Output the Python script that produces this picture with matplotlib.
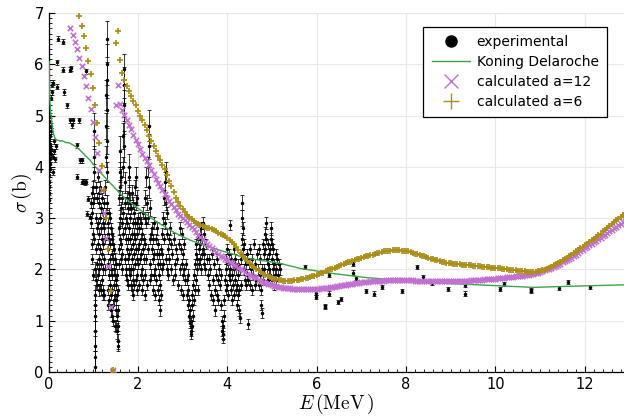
import numpy as np
import matplotlib
matplotlib.use('Agg')
import matplotlib.pyplot as plt
from matplotlib.lines import Line2D
from matplotlib.ticker import MultipleLocator

# ---------------------------------------------------------------
# data
# ---------------------------------------------------------------
# experimental points (E MeV, sigma b, error b)
exp_low = [
    (0.01, 3.35, .05), (0.01, 3.50, .05), (0.015, 3.60, .05), (0.02, 3.70, .05),
    (0.02, 3.85, .05), (0.025, 3.95, .05), (0.03, 4.05, .05), (0.01, 4.10, .05),
    (0.02, 4.20, .05), (0.03, 4.30, .05), (0.035, 4.40, .05), (0.04, 4.45, .05),
    (0.015, 4.55, .05), (0.025, 4.60, .05), (0.045, 4.70, .05), (0.05, 4.80, .05),
    (0.02, 4.90, .05), (0.03, 5.00, .05), (0.06, 5.35, .05), (0.07, 5.45, .05),
    (0.08, 5.60, .05), (0.04, 4.15, .05), (0.05, 4.25, .05), (0.06, 4.35, .05),
    (0.10, 4.20, .05), (0.12, 4.30, .05), (0.14, 4.15, .05), (0.16, 4.40, .05),
    (0.11, 3.90, .05), (0.13, 4.50, .05), (0.11, 5.64, .05),
    (0.22, 6.50, .05), (0.33, 6.44, .05), (0.20, 6.04, .05), (0.33, 5.89, .05),
    (0.48, 5.89, .05), (0.50, 5.92, .05), (0.20, 5.56, .05), (0.35, 5.46, .05),
    (0.41, 5.20, .05), (0.48, 4.91, .05), (0.54, 4.91, .05), (0.69, 4.91, .05),
    (0.52, 4.81, .05), (0.63, 4.42, .05), (0.70, 4.13, .05), (0.63, 3.81, .05),
    (0.74, 3.71, .05), (0.84, 3.71, .05), (0.85, 5.86, .05), (0.74, 4.13, .05),
    (0.78, 3.71, .05), (0.82, 3.70, .05), (0.89, 3.38, .05), (0.87, 3.09, .05),
    (0.93, 3.03, .05),
]

exp_forest_1 = [
    (0.95, 3.3, .1), (0.96, 2.9, .1), (0.97, 3.5, .1), (0.97, 2.5, .1), (0.98, 3.1, .1),
    (0.98, 2.2, .1), (0.99, 3.6, .12), (0.99, 2.7, .1), (1.00, 1.9, .1), (1.00, 3.3, .1),
    (1.01, 3.9, .15), (1.01, 2.6, .1), (1.02, 4.7, .35), (1.02, 4.2, .2), (1.02, 3.4, .1),
    (1.03, 2.0, .15), (1.03, 1.5, .2), (1.04, 1.1, .3), (1.04, 0.8, .4), (1.04, 0.5, .5),
    (1.05, 0.3, .4), (1.05, 0.1, .3), (1.05, 1.3, .3), (1.06, 1.8, .2), (1.06, 2.4, .1),
    (1.07, 3.0, .1), (1.07, 3.6, .1), (1.08, 2.8, .1), (1.08, 2.1, .1), (1.09, 3.4, .1),
    (1.09, 1.7, .1), (1.10, 2.5, .1), (1.10, 3.8, .1), (1.11, 2.9, .1), (1.11, 1.9, .1),
    (1.12, 3.3, .1), (1.12, 2.2, .1), (1.13, 2.7, .1), (1.13, 1.6, .12), (1.14, 3.5, .1),
    (1.14, 2.0, .1), (1.15, 3.0, .1), (1.15, 1.7, .1), (1.16, 2.4, .1), (1.16, 3.6, .12),
    (1.17, 2.8, .1), (1.17, 1.6, .1), (1.18, 3.2, .1), (1.18, 2.1, .1), (1.19, 2.6, .1),
    (1.19, 1.8, .1), (1.20, 3.4, .1), (1.20, 2.3, .1), (1.21, 1.5, .1), (1.21, 2.9, .1),
    (1.22, 2.0, .1), (1.22, 3.1, .1), (1.23, 2.5, .1), (1.23, 1.6, .1), (1.24, 3.3, .1),
    (1.24, 2.2, .1), (1.25, 2.8, .1), (1.25, 1.5, .1), (1.26, 3.0, .12), (1.26, 2.0, .1),
    (1.27, 3.6, .15), (1.27, 2.6, .1), (1.28, 4.2, .2), (1.28, 3.1, .1),
    (1.29, 4.8, .25), (1.29, 5.4, .3), (1.30, 6.0, .4), (1.30, 6.5, .35), (1.30, 5.7, .35),
    (1.30, 4.5, .25), (1.31, 5.1, .3), (1.31, 3.9, .2), (1.31, 3.3, .15), (1.32, 2.7, .12),
    (1.32, 2.1, .1), (1.33, 2.9, .1), (1.33, 1.6, .1), (1.34, 2.4, .1), (1.34, 1.3, .1),
    (1.35, 3.1, .1), (1.35, 1.9, .1), (1.36, 2.6, .1), (1.36, 1.4, .1), (1.37, 2.2, .1),
    (1.37, 3.0, .1), (1.38, 1.7, .1), (1.38, 2.5, .1), (1.39, 1.2, .12), (1.39, 2.8, .1),
    (1.40, 2.0, .1), (1.40, 1.5, .1), (1.41, 2.6, .12), (1.41, 1.1, .1), (1.42, 2.3, .1),
    (1.42, 1.6, .1), (1.43, 1.9, .1), (1.43, 2.7, .1), (1.44, 1.3, .1), (1.44, 2.2, .1),
    (1.45, 1.0, .1), (1.45, 2.5, .15), (1.46, 1.7, .1), (1.46, 2.0, .1), (1.47, 1.4, .1),
    (1.47, 2.4, .1), (1.48, 0.9, .1), (1.48, 1.9, .1), (1.49, 1.5, .1), (1.49, 2.2, .12),
    (1.50, 1.2, .1), (1.50, 1.8, .1), (1.51, 0.9, .12), (1.51, 2.1, .1), (1.52, 1.4, .1),
    (1.52, 1.7, .1), (1.53, 1.1, .1), (1.53, 1.9, .1), (1.54, 0.8, .15), (1.54, 1.5, .1),
    (1.55, 0.6, .15), (1.55, 1.2, .1), (1.56, 0.5, .1), (1.56, 0.9, .1), (1.56, 1.6, .1),
]

exp_forest_2 = [
    (1.57, 2.1, .1), (1.57, 2.8, .12), (1.58, 3.4, .15), (1.58, 2.4, .1), (1.59, 3.9, .2),
    (1.60, 4.3, .3), (1.60, 3.0, .15), (1.61, 2.6, .1), (1.61, 3.6, .15), (1.62, 2.2, .1),
    (1.62, 3.2, .12), (1.63, 2.5, .1), (1.63, 3.8, .15), (1.64, 2.9, .1), (1.64, 2.0, .1),
    (1.65, 3.4, .12), (1.65, 2.3, .1), (1.66, 4.0, .2), (1.66, 2.7, .1), (1.67, 4.6, .25),
    (1.67, 3.1, .12), (1.68, 5.2, .3), (1.69, 5.6, .35), (1.70, 5.9, .3), (1.70, 5.0, .35),
    (1.70, 4.4, .3), (1.71, 3.7, .2), (1.71, 2.8, .1), (1.72, 2.2, .1), (1.72, 3.3, .12),
    (1.73, 1.9, .1), (1.73, 2.6, .1), (1.74, 3.0, .1), (1.74, 2.0, .1), (1.75, 3.4, .12),
    (1.75, 2.4, .1), (1.76, 1.8, .1), (1.76, 2.9, .1), (1.77, 3.2, .12), (1.77, 2.2, .1),
    (1.78, 2.6, .1), (1.78, 1.7, .1), (1.79, 3.5, .15), (1.79, 2.0, .1), (1.80, 2.8, .1),
    (1.80, 3.8, .2), (1.81, 2.3, .1), (1.81, 4.0, .25), (1.82, 3.3, .15), (1.82, 1.9, .1),
    (1.83, 2.6, .1), (1.83, 3.0, .1), (1.84, 1.7, .1), (1.84, 2.4, .1), (1.85, 3.2, .12),
    (1.85, 2.0, .1), (1.86, 2.7, .1), (1.86, 1.6, .1), (1.87, 3.5, .15), (1.87, 2.2, .1),
    (1.88, 2.9, .1), (1.88, 1.8, .1), (1.89, 2.5, .1), (1.89, 3.3, .12), (1.90, 2.0, .1),
    (1.90, 1.5, .1), (1.91, 2.7, .1), (1.91, 3.1, .12), (1.92, 2.3, .1), (1.92, 1.7, .1),
    (1.93, 2.9, .1), (1.93, 3.6, .15), (1.94, 2.1, .1), (1.94, 2.6, .1), (1.95, 3.3, .15),
    (1.95, 1.8, .1), (1.96, 3.8, .2), (1.96, 2.4, .1), (1.97, 2.9, .12), (1.97, 1.6, .1),
    (1.98, 3.4, .15), (1.98, 2.2, .1), (1.99, 2.7, .1), (1.99, 1.9, .1), (2.00, 2.4, .1),
    (2.00, 3.0, .1), (2.01, 2.1, .1), (2.02, 2.8, .1), (2.03, 1.7, .1), (2.03, 2.5, .1),
    (2.04, 3.0, .12), (2.05, 2.2, .1), (2.06, 1.9, .1), (2.06, 2.6, .1), (2.07, 2.9, .12),
    (2.08, 2.3, .1), (2.09, 1.6, .1), (2.09, 2.0, .1), (2.10, 2.7, .1), (2.11, 2.4, .1),
    (2.12, 1.8, .1), (2.12, 3.1, .12), (2.13, 2.2, .1), (2.14, 2.6, .1), (2.15, 3.0, .12),
    (2.15, 1.9, .1), (2.16, 3.4, .15), (2.17, 2.5, .1), (2.17, 1.5, .1), (2.18, 3.8, .2),
    (2.19, 2.2, .1), (2.19, 2.9, .1), (2.20, 1.7, .1), (2.21, 3.3, .15), (2.22, 2.4, .1),
    (2.22, 4.0, .2), (2.23, 3.0, .12), (2.24, 4.4, .25), (2.25, 4.8, .3), (2.25, 3.6, .2),
    (2.26, 2.6, .1), (2.26, 1.8, .1), (2.27, 3.2, .15), (2.28, 2.1, .1),
]

exp_forest_3 = [
    (2.29, 2.7, .1), (2.30, 1.9, .1), (2.31, 2.4, .1), (2.32, 2.8, .12), (2.33, 1.6, .1),
    (2.33, 2.2, .1), (2.34, 2.6, .1), (2.35, 1.9, .1), (2.36, 2.9, .12), (2.37, 2.3, .1),
    (2.38, 1.5, .1), (2.39, 2.0, .1), (2.40, 2.6, .1), (2.41, 1.8, .1), (2.42, 2.3, .1),
    (2.43, 2.8, .12), (2.44, 1.6, .1), (2.45, 2.1, .1), (2.46, 2.5, .1), (2.47, 1.4, .1),
    (2.47, 1.9, .1), (2.48, 2.3, .1), (2.49, 1.2, .1), (2.49, 1.7, .1), (2.50, 2.1, .1),
    (2.51, 1.5, .1), (2.52, 2.4, .1), (2.53, 2.0, .1), (2.54, 2.7, .1), (2.55, 2.3, .1),
    (2.56, 3.0, .12), (2.57, 2.1, .1), (2.58, 3.4, .15), (2.59, 2.6, .1), (2.60, 3.7, .2),
    (2.61, 2.9, .12), (2.62, 3.9, .2), (2.62, 2.2, .1), (2.63, 3.3, .15), (2.64, 2.7, .1),
    (2.65, 2.0, .1), (2.66, 3.1, .12), (2.67, 2.4, .1), (2.68, 1.9, .1), (2.69, 2.6, .1),
    (2.70, 2.2, .1), (2.71, 2.8, .12), (2.73, 2.5, .1), (2.75, 2.0, .1), (2.77, 2.3, .1),
    (2.78, 1.8, .1), (2.80, 2.6, .12), (2.82, 2.1, .1), (2.84, 1.9, .1), (2.86, 2.4, .1),
    (2.88, 2.2, .1), (2.90, 1.7, .1), (2.92, 2.5, .1), (2.94, 2.0, .1), (2.95, 2.8, .12),
    (2.96, 2.4, .1), (2.97, 1.6, .1), (2.98, 2.1, .1), (2.99, 2.7, .1), (3.00, 1.9, .1),
    (3.01, 2.3, .1), (3.02, 1.5, .1), (3.03, 2.0, .1), (3.04, 2.5, .1), (3.05, 1.8, .1),
    (3.08, 2.1, .1), (3.09, 1.8, .1), (3.10, 1.5, .1), (3.11, 1.9, .1), (3.12, 1.3, .1),
    (3.13, 1.6, .1), (3.14, 1.1, .1), (3.15, 1.4, .1), (3.16, 0.95, .1), (3.17, 1.2, .1),
    (3.18, 0.8, .1), (3.19, 1.0, .1), (3.19, 0.75, .1), (3.20, 1.3, .1), (3.21, 0.9, .1),
    (3.22, 1.5, .1), (3.23, 1.1, .1), (3.24, 1.7, .1), (3.25, 1.4, .1), (3.26, 1.9, .1),
    (3.27, 1.6, .1), (3.28, 2.1, .1),
]

exp_forest_4 = [
    (3.29, 2.3, .1), (3.30, 1.8, .1), (3.31, 2.5, .1), (3.32, 2.0, .1), (3.33, 2.2, .1),
    (3.34, 1.6, .1), (3.35, 2.6, .1), (3.36, 2.1, .1), (3.37, 2.4, .1), (3.38, 2.7, .12),
    (3.39, 2.2, .1), (3.40, 2.5, .1), (3.41, 2.0, .1), (3.42, 2.8, .12), (3.43, 2.3, .1),
    (3.44, 2.6, .1), (3.45, 2.9, .12), (3.46, 2.4, .1), (3.47, 2.1, .1), (3.48, 2.7, .1),
    (3.49, 2.3, .1), (3.50, 2.0, .1), (3.52, 2.5, .1), (3.54, 2.2, .1), (3.56, 1.9, .1),
    (3.58, 2.2, .1), (3.60, 1.7, .1), (3.62, 2.0, .1), (3.63, 1.5, .1), (3.65, 2.3, .1),
    (3.67, 1.8, .1), (3.68, 1.4, .1), (3.70, 2.1, .1), (3.72, 1.6, .1), (3.73, 1.2, .1),
    (3.75, 1.9, .1), (3.76, 1.5, .1), (3.78, 2.2, .1), (3.79, 1.8, .1), (3.80, 1.4, .1),
    (3.82, 2.0, .1), (3.83, 1.7, .1), (3.85, 1.3, .1), (3.86, 1.9, .1), (3.88, 1.0, .1),
    (3.89, 0.8, .1), (3.90, 0.65, .08), (3.90, 0.9, .1), (3.91, 0.75, .1), (3.92, 1.1, .1),
    (3.93, 1.4, .1), (3.95, 1.8, .1), (3.96, 2.2, .1), (3.97, 1.6, .1), (3.98, 2.0, .1),
    (3.99, 2.4, .1), (4.00, 1.7, .1), (4.01, 2.1, .1), (4.02, 1.5, .1), (4.03, 1.9, .1),
    (4.04, 2.3, .1), (4.05, 1.8, .1), (4.06, 2.86, .1), (4.07, 2.0, .1), (4.08, 1.6, .1),
    (4.09, 2.2, .1), (4.10, 1.9, .1), (4.11, 1.4, .1), (4.12, 2.1, .1), (4.13, 1.7, .1),
    (4.14, 2.4, .1), (4.15, 2.0, .1), (4.16, 1.5, .1), (4.17, 1.8, .1), (4.18, 2.2, .1),
    (4.19, 1.6, .1), (4.20, 2.0, .1), (4.21, 1.3, .1), (4.22, 1.7, .1), (4.23, 2.1, .1),
    (4.24, 1.5, .1), (4.25, 1.9, .1), (4.26, 1.2, .1), (4.27, 1.6, .1), (4.28, 1.05, .1),
    (4.29, 2.0, .1), (4.30, 1.7, .1), (4.31, 2.2, .1), (4.32, 2.6, .12), (4.33, 3.0, .15),
    (4.34, 3.3, .15), (4.35, 2.8, .12), (4.36, 2.4, .1), (4.37, 2.0, .1), (4.38, 2.5, .1),
    (4.39, 1.8, .1), (4.40, 2.2, .1), (4.41, 1.7, .1), (4.42, 2.1, .1), (4.43, 1.9, .1),
]

exp_forest_5 = [
    (4.45, 2.3, .1), (4.46, 1.8, .1), (4.47, 0.94, .1), (4.48, 2.1, .1), (4.50, 1.7, .1),
    (4.51, 2.4, .1), (4.53, 2.0, .1), (4.55, 1.6, .1), (4.56, 2.2, .1), (4.58, 1.9, .1),
    (4.60, 2.5, .1), (4.61, 1.7, .1), (4.63, 2.1, .1), (4.65, 1.8, .1), (4.66, 2.3, .1),
    (4.68, 2.0, .1), (4.70, 1.7, .1), (4.71, 2.4, .1), (4.73, 1.9, .1), (4.74, 2.2, .1),
    (4.75, 1.6, .1), (4.76, 1.3, .1), (4.77, 2.0, .1), (4.78, 1.15, .1), (4.79, 2.5, .1),
    (4.80, 1.8, .1), (4.81, 2.3, .1), (4.83, 2.0, .1), (4.84, 2.4, .1), (4.85, 2.7, .12),
    (4.86, 2.9, .12), (4.87, 2.6, .1), (4.88, 2.2, .1), (4.89, 1.9, .1), (4.90, 2.5, .1),
    (4.91, 2.1, .1), (4.92, 1.8, .1), (4.93, 2.3, .1), (4.94, 2.0, .1), (4.95, 2.4, .1),
    (4.96, 1.9, .1), (4.97, 2.6, .12), (4.98, 2.8, .12), (4.99, 2.5, .1), (5.00, 2.2, .1),
    (5.01, 1.8, .1), (5.02, 2.4, .1), (5.03, 2.0, .1), (5.04, 1.7, .1), (5.05, 2.1, .1),
    (5.06, 1.9, .1), (5.08, 2.3, .1), (5.09, 2.0, .1), (5.10, 1.8, .1), (5.12, 2.2, .1),
    (5.14, 1.9, .1), (5.16, 2.1, .1), (5.18, 2.0, .1),
]

exp_high = [
    (5.74, 2.05, .04), (5.98, 1.55, .04), (5.98, 1.46, .04), (6.19, 1.29, .04),
    (6.19, 1.26, .04), (6.28, 1.89, .04), (6.28, 1.53, .04), (6.48, 1.36, .04),
    (6.54, 1.42, .04), (6.82, 2.10, .04), (6.82, 1.94, .04), (6.87, 1.84, .04),
    (7.10, 1.58, .04), (7.28, 1.53, .04), (7.45, 1.66, .04), (7.90, 1.58, .04),
    (8.24, 2.04, .04), (8.37, 1.85, .04), (8.57, 1.73, .04), (8.94, 1.62, .04),
    (9.31, 1.70, .04), (9.31, 1.53, .04), (10.10, 1.61, .04), (10.19, 1.71, .04),
    (10.80, 1.60, .04), (10.80, 1.58, .04), (11.43, 1.63, .04), (11.63, 1.75, .04),
    (12.11, 1.66, .04),
]

# Koning-Delaroche optical model curve
kd_E = [0.015, 0.02, 0.03, 0.05, 0.07, 0.09, 0.11, 0.14, 0.18, 0.22, 0.26, 0.30,
        0.35, 0.41, 0.46, 0.52, 0.60, 0.70, 0.80, 0.93, 1.05, 1.15, 1.30, 1.45,
        1.67, 2.05, 2.42, 2.79, 3.17, 3.69, 4.43, 5.18, 5.40, 5.63, 6.37, 7.12,
        7.86, 8.61, 9.36, 10.10, 10.85, 11.59, 12.90]
kd_sig = [6.05, 5.70, 5.30, 5.05, 4.90, 4.75, 4.65, 4.57, 4.52, 4.52, 4.50, 4.51,
          4.49, 4.47, 4.47, 4.44, 4.40, 4.33, 4.24, 4.13, 4.00, 3.90, 3.76, 3.62,
          3.42, 3.16, 2.93, 2.73, 2.57, 2.41, 2.22, 2.12, 2.07, 2.02, 1.92, 1.84,
          1.79, 1.74, 1.71, 1.68, 1.65, 1.67, 1.70]

# calculated, low-energy branch
a12_lo_E = [0.49, 0.54, 0.59, 0.64, 0.69, 0.74, 0.79, 0.84, 0.89, 0.94, 0.99,
            1.04, 1.09, 1.14, 1.19, 1.24, 1.29, 1.34, 1.39, 1.44]
a12_lo = [6.70, 6.58, 6.44, 6.29, 6.13, 5.96, 5.77, 5.57, 5.35, 5.13, 4.87,
          4.59, 4.27, 3.94, 3.55, 3.10, 2.62, 2.07, 1.27, 0.03]
a6_lo_E = [0.69, 0.74, 0.79, 0.84, 0.89, 0.94, 0.99, 1.04, 1.09, 1.14, 1.19,
           1.24, 1.29, 1.34, 1.39, 1.44]
a6_lo = [6.95, 6.75, 6.55, 6.32, 6.07, 5.82, 5.53, 5.20, 4.86, 4.46, 4.02,
         3.55, 3.00, 2.39, 1.57, 0.03]

# calculated, main branch: (E, a=12, a=6)
calc_hi = [
    (1.50, 5.20, 6.41), (1.55, 5.59, 6.65), (1.60, 5.22, 6.08), (1.65, 5.10, 5.83),
    (1.70, 5.01, 5.69), (1.75, 4.91, 5.57), (1.80, 4.81, 5.47), (1.85, 4.73, 5.38),
    (1.90, 4.63, 5.29), (1.95, 4.53, 5.20), (2.00, 4.44, 5.09), (2.05, 4.35, 5.00),
    (2.10, 4.26, 4.91), (2.15, 4.18, 4.82), (2.20, 4.11, 4.71), (2.25, 4.03, 4.61),
    (2.30, 3.94, 4.50), (2.35, 3.86, 4.40), (2.40, 3.77, 4.30), (2.45, 3.69, 4.22),
    (2.50, 3.63, 4.13), (2.55, 3.54, 4.04), (2.60, 3.47, 3.95), (2.65, 3.39, 3.84),
    (2.70, 3.33, 3.73), (2.75, 3.27, 3.62), (2.80, 3.21, 3.51), (2.85, 3.15, 3.40),
    (2.90, 3.09, 3.31), (2.95, 3.05, 3.24), (3.00, 3.00, 3.18), (3.05, 2.96, 3.12),
    (3.10, 2.92, 3.07), (3.15, 2.87, 3.02), (3.20, 2.83, 2.98), (3.25, 2.78, 2.95),
    (3.30, 2.73, 2.91), (3.35, 2.68, 2.89), (3.40, 2.63, 2.87), (3.45, 2.59, 2.85),
    (3.50, 2.54, 2.83), (3.55, 2.50, 2.81), (3.60, 2.46, 2.80), (3.65, 2.41, 2.78),
    (3.70, 2.37, 2.76), (3.75, 2.34, 2.74), (3.80, 2.30, 2.72), (3.85, 2.27, 2.70),
    (3.90, 2.24, 2.68), (3.95, 2.21, 2.65), (4.00, 2.18, 2.62), (4.05, 2.15, 2.58),
    (4.10, 2.12, 2.54), (4.15, 2.09, 2.49), (4.20, 2.06, 2.44), (4.25, 2.03, 2.38),
    (4.30, 2.01, 2.32), (4.35, 1.98, 2.27), (4.40, 1.95, 2.21), (4.45, 1.92, 2.16),
    (4.50, 1.90, 2.12), (4.55, 1.87, 2.07), (4.60, 1.85, 2.04), (4.65, 1.83, 2.01),
    (4.70, 1.80, 1.98), (4.75, 1.78, 1.95), (4.80, 1.76, 1.92), (4.85, 1.74, 1.90),
    (4.90, 1.72, 1.88), (4.95, 1.71, 1.86), (5.00, 1.69, 1.84), (5.05, 1.68, 1.82),
    (5.10, 1.67, 1.81), (5.15, 1.66, 1.80), (5.20, 1.65, 1.79), (5.25, 1.64, 1.78),
    (5.30, 1.64, 1.78), (5.35, 1.63, 1.78), (5.40, 1.63, 1.78), (5.45, 1.62, 1.78),
    (5.50, 1.62, 1.79), (5.55, 1.62, 1.79), (5.60, 1.62, 1.80), (5.65, 1.61, 1.81),
    (5.70, 1.61, 1.82), (5.75, 1.61, 1.83), (5.80, 1.61, 1.84), (5.85, 1.61, 1.85),
    (5.90, 1.61, 1.87), (5.95, 1.62, 1.88), (6.00, 1.62, 1.89), (6.05, 1.62, 1.91),
    (6.10, 1.63, 1.93), (6.15, 1.63, 1.94), (6.20, 1.64, 1.96), (6.25, 1.64, 1.98),
    (6.30, 1.65, 2.00), (6.35, 1.66, 2.01), (6.40, 1.66, 2.03), (6.45, 1.67, 2.05),
    (6.50, 1.68, 2.07), (6.55, 1.69, 2.08), (6.60, 1.70, 2.10), (6.65, 1.70, 2.12),
    (6.70, 1.71, 2.14), (6.75, 1.72, 2.15), (6.80, 1.72, 2.17), (6.85, 1.73, 2.18),
    (6.90, 1.74, 2.20), (6.95, 1.74, 2.21), (7.00, 1.75, 2.23), (7.05, 1.75, 2.24),
    (7.10, 1.76, 2.26), (7.15, 1.76, 2.27), (7.20, 1.77, 2.28), (7.25, 1.77, 2.29),
    (7.30, 1.77, 2.31), (7.35, 1.78, 2.32), (7.40, 1.78, 2.33), (7.45, 1.78, 2.34),
    (7.50, 1.78, 2.35), (7.55, 1.79, 2.35), (7.60, 1.79, 2.36), (7.65, 1.79, 2.36),
    (7.70, 1.79, 2.37), (7.75, 1.79, 2.37), (7.80, 1.79, 2.37), (7.85, 1.79, 2.37),
    (7.90, 1.79, 2.36), (7.95, 1.79, 2.36), (8.00, 1.79, 2.35), (8.05, 1.79, 2.35),
    (8.10, 1.79, 2.34), (8.15, 1.79, 2.32), (8.20, 1.78, 2.31), (8.25, 1.78, 2.30),
    (8.30, 1.78, 2.28), (8.35, 1.78, 2.27), (8.40, 1.78, 2.26), (8.45, 1.78, 2.24),
    (8.50, 1.78, 2.23), (8.55, 1.78, 2.21), (8.60, 1.78, 2.20), (8.65, 1.78, 2.19),
    (8.70, 1.77, 2.18), (8.75, 1.77, 2.16), (8.80, 1.77, 2.15), (8.85, 1.77, 2.14),
    (8.90, 1.77, 2.13), (8.95, 1.77, 2.12), (9.00, 1.77, 2.12), (9.05, 1.77, 2.11),
    (9.10, 1.77, 2.11), (9.15, 1.78, 2.10), (9.20, 1.78, 2.10), (9.25, 1.78, 2.09),
    (9.30, 1.78, 2.09), (9.35, 1.78, 2.09), (9.40, 1.78, 2.08), (9.45, 1.79, 2.08),
    (9.50, 1.79, 2.07), (9.55, 1.79, 2.07), (9.60, 1.80, 2.06), (9.65, 1.80, 2.06),
    (9.70, 1.80, 2.05), (9.75, 1.81, 2.05), (9.80, 1.81, 2.04), (9.85, 1.81, 2.04),
    (9.90, 1.82, 2.03), (9.95, 1.82, 2.03), (10.00, 1.82, 2.02), (10.05, 1.83, 2.02),
    (10.10, 1.83, 2.02), (10.15, 1.84, 2.01), (10.20, 1.84, 2.01), (10.25, 1.85, 2.00),
    (10.30, 1.85, 1.99), (10.35, 1.86, 1.99), (10.40, 1.86, 1.98), (10.45, 1.87, 1.98),
    (10.50, 1.87, 1.97), (10.55, 1.88, 1.97), (10.60, 1.88, 1.96), (10.65, 1.89, 1.96),
    (10.70, 1.90, 1.95), (10.75, 1.90, 1.95), (10.80, 1.91, 1.95), (10.85, 1.92, 1.95),
    (10.90, 1.93, 1.95), (10.95, 1.94, 1.96), (11.00, 1.95, 1.97), (11.05, 1.97, 1.98),
    (11.10, 1.98, 1.99), (11.15, 2.00, 2.01), (11.20, 2.01, 2.03), (11.25, 2.03, 2.05),
    (11.30, 2.05, 2.08), (11.35, 2.07, 2.10), (11.40, 2.09, 2.13), (11.45, 2.11, 2.15),
    (11.50, 2.14, 2.18), (11.55, 2.16, 2.20), (11.60, 2.18, 2.23), (11.65, 2.21, 2.26),
    (11.70, 2.23, 2.29), (11.75, 2.26, 2.32), (11.80, 2.29, 2.35), (11.85, 2.32, 2.38),
    (11.90, 2.35, 2.41), (11.95, 2.38, 2.44), (12.00, 2.41, 2.47), (12.05, 2.44, 2.50),
    (12.10, 2.47, 2.53), (12.15, 2.50, 2.57), (12.20, 2.53, 2.60), (12.25, 2.56, 2.63),
    (12.30, 2.59, 2.67), (12.35, 2.62, 2.70), (12.40, 2.65, 2.74), (12.45, 2.68, 2.77),
    (12.50, 2.71, 2.81), (12.55, 2.74, 2.84), (12.60, 2.77, 2.88), (12.65, 2.80, 2.92),
    (12.70, 2.83, 2.96), (12.75, 2.86, 2.99), (12.80, 2.89, 3.03), (12.85, 2.92, 3.07),
    (12.90, 2.95, 3.10),
]

# ---------------------------------------------------------------
# estilo
# ---------------------------------------------------------------
c_kd = '#3da44d'
c_a12 = '#c271d2'
c_a6 = '#ac8d18'
c_grid = '#e8e8e8'

plt.rcParams['font.family'] = 'DejaVu Sans'
plt.rcParams['mathtext.fontset'] = 'cm'

fig = plt.figure(figsize=(6.24, 4.16), dpi=100)
ax = fig.add_axes([48.5 / 624, 44 / 416, 575.5 / 624, 359 / 416])

exp_all = np.array(exp_low + exp_forest_1 + exp_forest_2 + exp_forest_3
                   + exp_forest_4 + exp_forest_5 + exp_high)
ax.errorbar(exp_all[:, 0], exp_all[:, 1], yerr=exp_all[:, 2], fmt='o',
            color='black', ms=1.5, elinewidth=0.55, capsize=1.2,
            capthick=0.55, zorder=2)

ax.plot(kd_E, kd_sig, color=c_kd, lw=1.0, zorder=3)

hi = np.array(calc_hi)
ax.scatter(a12_lo_E, a12_lo, marker='x', s=15, color=c_a12, lw=1.15, zorder=4)
ax.scatter(hi[:, 0], hi[:, 1], marker='x', s=15, color=c_a12, lw=1.15, zorder=4)
ax.scatter(a6_lo_E, a6_lo, marker='+', s=19, color=c_a6, lw=1.25, zorder=5)
ax.scatter(hi[:, 0], hi[:, 2], marker='+', s=19, color=c_a6, lw=1.25, zorder=5)

ax.set_xlim(0, 12.875)
ax.set_ylim(0, 7)
ax.xaxis.set_major_locator(MultipleLocator(2))
ax.xaxis.set_minor_locator(MultipleLocator(0.2))
ax.yaxis.set_major_locator(MultipleLocator(1))
ax.yaxis.set_minor_locator(MultipleLocator(0.1))
ax.tick_params(which='both', direction='in', colors='black', labelsize=10.5)
ax.tick_params(which='major', length=4, width=0.8)
ax.tick_params(which='minor', length=2.2, width=0.6)
ax.spines[['top', 'right']].set_visible(False)
ax.spines[['bottom', 'left']].set_linewidth(0.9)
ax.grid(which='major', color=c_grid, linewidth=0.8)
ax.set_axisbelow(True)

ax.set_xlabel(r'$E\,(\mathrm{MeV}\,)$', fontsize=14, labelpad=0)
ax.set_ylabel(r'$\sigma\,(\mathrm{b})$', fontsize=14, labelpad=0)

handles = [
    Line2D([], [], ls='none', marker='o', ms=8, color='black'),
    Line2D([], [], color=c_kd, lw=1.0),
    Line2D([], [], ls='none', marker='x', ms=10, mew=1.0, color=c_a12),
    Line2D([], [], ls='none', marker='+', ms=11, mew=1.0, color=c_a6),
]
labels = ['experimental', 'Koning Delaroche', 'calculated a=12', 'calculated a=6']
leg = ax.legend(handles, labels, loc='upper right',
                bbox_to_anchor=(0.9705, 0.961), fontsize=10, frameon=True,
                fancybox=False, framealpha=1, edgecolor='black',
                handlelength=2.8, handletextpad=0.45, labelspacing=0.42,
                borderpad=0.6, borderaxespad=0)
leg.get_frame().set_linewidth(0.9)

fig.savefig('out.png', dpi=100, facecolor='white')
